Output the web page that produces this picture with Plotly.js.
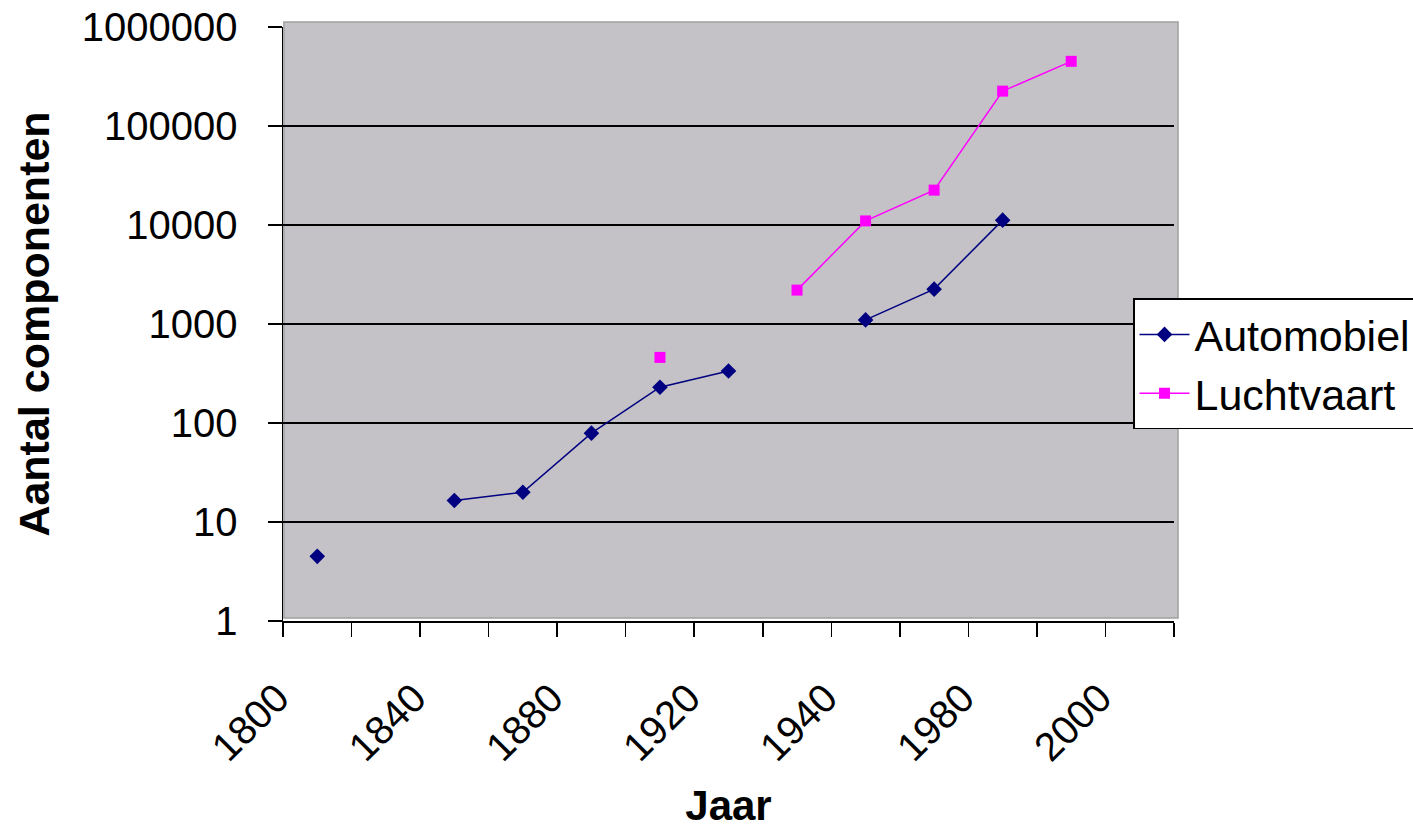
<!DOCTYPE html>
<html>
<head>
<meta charset="utf-8">
<script src="https://cdn.plot.ly/plotly-3.0.1.min.js"></script>
<style>
  html, body { margin: 0; padding: 0; background: #ffffff; }
  #chart { width: 1413px; height: 829px; }
</style>
</head>
<body>
<div id="chart"></div>
<script>
// Categories (Excel-style category axis; every other label is shown)
var years = ['1800','1820','1840','1860','1880','1900','1920','1930','1940','1960','1980','1990','2000'];
var shownYearLabels = ['1800','1840','1880','1920','1940','1980','2000'];

// Series values (number of components, log scale)
var automobiel = [4.5, null, 16.5, 20, 79, 230, 335, null, 1100, 2250, 11200, null, null];
var luchtvaart = [null, null, null, null, null, 460, null, 2200, 11000, 22500, 225000, 450000, null];

// Y tick labels
var yTickVals = [1, 10, 100, 1000, 10000, 100000, 1000000];
var yTickText = ['1', '10', '100', '1000', '10000', '100000', '1000000'];

var FONT = 'Liberation Sans, Arial, sans-serif';

// category positions on the axis
var catPos = years.map(function (y, i) { return i; });
var labelPos = shownYearLabels.map(function (y) { return years.indexOf(y); });
var boundaryPos = years.map(function (y, i) { return i - 0.5; }).concat([years.length - 0.5]);

var traces = [
  {
    name: 'Automobiel',
    x: catPos,
    y: automobiel,
    text: years,
    type: 'scatter',
    mode: 'lines+markers',
    line: { color: '#000080', width: 1.5 },
    marker: { symbol: 'diamond', size: 12, color: '#000080' },
    connectgaps: false
  },
  {
    name: 'Luchtvaart',
    x: catPos,
    y: luchtvaart,
    text: years,
    type: 'scatter',
    mode: 'lines+markers',
    line: { color: '#ff00ff', width: 1.5 },
    marker: { symbol: 'square', size: 11, color: '#ff00ff' },
    connectgaps: false
  }
];

var layout = {
  width: 1413,
  height: 829,
  margin: { l: 283, r: 239, t: 27, b: 208, autoexpand: false },
  paper_bgcolor: '#ffffff',
  plot_bgcolor: 'rgba(0,0,0,0)',
  font: { family: FONT, color: '#000000', size: 40 },
  showlegend: true,
  legend: {
    x: 0.954, y: 0.543, xanchor: 'left', yanchor: 'top',
    bgcolor: '#ffffff', bordercolor: '#000000', borderwidth: 1.5,
    itemwidth: 50,
    font: { family: FONT, size: 43, color: '#000000' }
  },
  xaxis: {
    type: 'linear',
    range: [-0.5, years.length - 0.5],
    tickmode: 'array',
    tickvals: labelPos,
    ticktext: shownYearLabels,
    tickangle: -45,
    ticks: '',
    ticklabelstandoff: 36,
    ticklabelshift: -40,
    tickfont: { family: FONT, size: 40, color: '#000000' },
    minor: {
      tickmode: 'array',
      tickvals: boundaryPos,
      ticks: 'outside', ticklen: 14, tickwidth: 1.5, tickcolor: '#000000',
      showgrid: false
    },
    showgrid: false,
    showline: true, linecolor: '#000000', linewidth: 1.5,
    zeroline: false,
    fixedrange: true,
    title: { text: '<b>Jaar</b>', font: { family: FONT, size: 42, color: '#000000' }, standoff: 40 }
  },
  yaxis: {
    type: 'log',
    range: [0, 6],
    tickmode: 'array',
    tickvals: yTickVals,
    ticktext: yTickText,
    ticks: 'outside', ticklen: 14, tickwidth: 1.5, tickcolor: '#000000',
    showgrid: true, gridcolor: '#000000', gridwidth: 1.5,
    showline: true, linecolor: '#000000', linewidth: 1.5,
    zeroline: false,
    ticklabelstandoff: 22,
    tickfont: { family: FONT, size: 40, color: '#000000' },
    fixedrange: true,
    title: { text: '<b>Aantal componenten</b>', font: { family: FONT, size: 43, color: '#000000' }, standoff: 18 }
  },
  shapes: [
    {
      type: 'rect', xref: 'paper', yref: 'paper', layer: 'below',
      x0: 0.001, x1: 1.0045, y0: 0.005, y1: 1.0084,
      fillcolor: '#c4c2c6',
      line: { color: '#a0a0a0', width: 1.5 }
    }
  ]
};

Plotly.newPlot('chart', traces, layout, { displayModeBar: false, staticPlot: true });
</script>
</body>
</html>
